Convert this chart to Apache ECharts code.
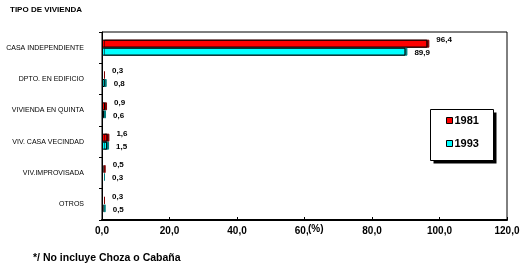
<!DOCTYPE html>
<html><head><meta charset="utf-8">
<script src="https://cdn.jsdelivr.net/npm/echarts@6/dist/echarts.min.js"></script>
<style>html,body{margin:0;padding:0;background:#fff}#c{width:530px;height:275px}</style>
</head><body><div id="c"></div>
<script>
const categories = ['CASA INDEPENDIENTE','DPTO. EN EDIFICIO','VIVIENDA EN QUINTA','VIV. CASA VECINDAD','VIV.IMPROVISADA','OTROS'];
const values1981 = [96.4, 0.3, 0.9, 1.6, 0.5, 0.3];
const values1993 = [89.9, 0.8, 0.6, 1.5, 0.3, 0.5];
const seriesNames = ['1981', '1993'];
const xTicks = [0, 20, 40, 60, 80, 100, 120];

const fmt = v => v.toFixed(1).replace('.', ',');
const chart = echarts.init(document.getElementById('c'));
const mkLabel = dy => ({show: true, position: 'right', distance: 9, offset: [0, dy], color: '#000', fontWeight: 'bold', fontSize: 8, fontFamily: 'Liberation Sans', formatter: p => fmt(p.value)});
chart.setOption({
  animation: false,
  backgroundColor: '#fff',
  textStyle: {fontFamily: 'Liberation Sans'},
  grid: {left: 102, right: 23, top: 32, bottom: 55, show: true, borderColor: '#000', borderWidth: 1, backgroundColor: 'transparent'},
  xAxis: {
    type: 'value', min: xTicks[0], max: xTicks[xTicks.length - 1], interval: 20,
    axisLine: {show: true, lineStyle: {color: '#000', width: 2}},
    axisTick: {show: true, inside: true, length: 3, lineStyle: {color: '#000'}},
    splitLine: {show: false},
    axisLabel: {color: '#000', fontWeight: 'bold', fontSize: 10, margin: 6, formatter: v => fmt(v)}
  },
  yAxis: {
    type: 'category', data: categories, inverse: true,
    axisLine: {show: true, lineStyle: {color: '#000', width: 1}},
    axisTick: {show: true, length: 3, lineStyle: {color: '#000'}},
    axisLabel: {color: '#000', fontSize: 7, margin: 18}
  },
  legend: {
    orient: 'vertical', left: 446, top: 115, data: seriesNames, z: 10,
    itemWidth: 6, itemHeight: 6, itemGap: 12, padding: 0,
    icon: 'rect',
    itemStyle: {borderColor: '#000', borderWidth: 1, shadowBlur: 0, shadowColor: 'transparent', shadowOffsetX: 0},
    textStyle: {color: '#000', fontWeight: 'bold', fontSize: 11, padding: [0, 0, 0, -3]}
  },
  series: [
    {name: seriesNames[0], type: 'bar', data: values1981, barWidth: 8, barGap: '0%',
     itemStyle: {color: '#ff0000', borderColor: '#000', borderWidth: 1, shadowColor: '#800000', shadowOffsetX: 2, shadowBlur: 0},
     label: mkLabel(-4)},
    {name: seriesNames[1], type: 'bar', data: values1993, barWidth: 8, barGap: '0%',
     itemStyle: {color: '#00ffff', borderColor: '#000', borderWidth: 1, shadowColor: '#008080', shadowOffsetX: 2, shadowBlur: 0},
     label: mkLabel(1)}
  ],
  graphic: [
    {type: 'text', left: 10, top: 6, style: {text: 'TIPO DE VIVIENDA', fill: '#000', font: 'bold 8px Liberation Sans'}},
    {type: 'text', left: 33, top: 253, style: {text: '*/ No incluye Choza o Cabaña', fill: '#000', font: 'bold 10.5px Liberation Sans'}},
    {type: 'text', left: 308, top: 224, z: 20, style: {text: '(%)', fill: '#000', font: 'bold 10px Liberation Sans', backgroundColor: '#fff'}},
    {type: 'rect', z: 5, shape: {x: 433.5, y: 112.5, width: 63, height: 51}, style: {fill: '#000'}},
    {type: 'rect', z: 6, shape: {x: 430.5, y: 109.5, width: 63, height: 51}, style: {fill: '#fff', stroke: '#000', lineWidth: 1}}
  ]
});
</script></body></html>
